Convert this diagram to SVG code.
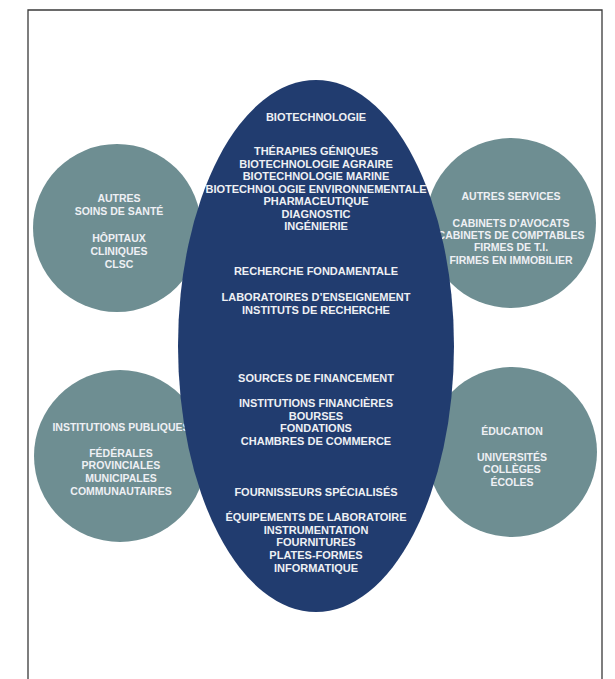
<svg xmlns="http://www.w3.org/2000/svg" width="615" height="679" viewBox="0 0 615 679">
<style>
.bg{fill:#ffffff}
.frame{fill:none;stroke:#3a3a3a;stroke-width:1.3}
.circ{fill:#6e8e92}
.ell{fill:#213c6f}
text{font-family:"Liberation Sans",Arial,sans-serif;font-weight:bold;fill:#eef0f4;text-anchor:middle}
.t{font-size:11px}
.c{font-size:10.5px}
</style>
<rect class="bg" x="0" y="0" width="615" height="679"/>
<path class="frame" d="M28,679 V10 H602 V679"/>
<g id="autres-soins">
<circle class="circ" cx="117" cy="228" r="84"/>
<text class="c" x="119" y="202">AUTRES</text>
<text class="c" x="119" y="215">SOINS DE SANTÉ</text>
<text class="c" x="119" y="242">HÔPITAUX</text>
<text class="c" x="119" y="255">CLINIQUES</text>
<text class="c" x="119" y="268">CLSC</text>
</g>
<g id="autres-services">
<circle class="circ" cx="511" cy="223" r="85"/>
<text class="c" x="511" y="200">AUTRES SERVICES</text>
<text class="c" x="511" y="227">CABINETS D’AVOCATS</text>
<text class="c" x="511" y="239">CABINETS DE COMPTABLES</text>
<text class="c" x="511" y="251">FIRMES DE T.I.</text>
<text class="c" x="511" y="264">FIRMES EN IMMOBILIER</text>
</g>
<g id="institutions-publiques">
<circle class="circ" cx="120" cy="456" r="86"/>
<text class="c" x="121" y="431">INSTITUTIONS PUBLIQUES</text>
<text class="c" x="121" y="457">FÉDÉRALES</text>
<text class="c" x="121" y="469">PROVINCIALES</text>
<text class="c" x="121" y="482">MUNICIPALES</text>
<text class="c" x="121" y="495">COMMUNAUTAIRES</text>
</g>
<g id="education">
<circle class="circ" cx="512" cy="452" r="85"/>
<text class="c" x="512" y="435">ÉDUCATION</text>
<text class="c" x="512" y="461">UNIVERSITÉS</text>
<text class="c" x="512" y="473">COLLÈGES</text>
<text class="c" x="512" y="486">ÉCOLES</text>
</g>
<g id="centre">
<ellipse class="ell" cx="316" cy="346" rx="138" ry="266"/>
<text class="t" x="316" y="121">BIOTECHNOLOGIE</text>
<text class="t" x="316" y="155">THÉRAPIES GÉNIQUES</text>
<text class="t" x="316" y="167.5">BIOTECHNOLOGIE AGRAIRE</text>
<text class="t" x="316" y="180">BIOTECHNOLOGIE MARINE</text>
<text class="t" x="316" y="192.5">BIOTECHNOLOGIE ENVIRONNEMENTALE</text>
<text class="t" x="316" y="205">PHARMACEUTIQUE</text>
<text class="t" x="316" y="217.5">DIAGNOSTIC</text>
<text class="t" x="316" y="230">INGÉNIERIE</text>
<text class="t" x="316" y="275">RECHERCHE FONDAMENTALE</text>
<text class="t" x="316" y="301">LABORATOIRES D’ENSEIGNEMENT</text>
<text class="t" x="316" y="314">INSTITUTS DE RECHERCHE</text>
<text class="t" x="316" y="382">SOURCES DE FINANCEMENT</text>
<text class="t" x="316" y="407">INSTITUTIONS FINANCIÈRES</text>
<text class="t" x="316" y="420">BOURSES</text>
<text class="t" x="316" y="432">FONDATIONS</text>
<text class="t" x="316" y="445">CHAMBRES DE COMMERCE</text>
<text class="t" x="316" y="496">FOURNISSEURS SPÉCIALISÉS</text>
<text class="t" x="316" y="521">ÉQUIPEMENTS DE LABORATOIRE</text>
<text class="t" x="316" y="534">INSTRUMENTATION</text>
<text class="t" x="316" y="546">FOURNITURES</text>
<text class="t" x="316" y="559">PLATES-FORMES</text>
<text class="t" x="316" y="572">INFORMATIQUE</text>
</g>
</svg>
